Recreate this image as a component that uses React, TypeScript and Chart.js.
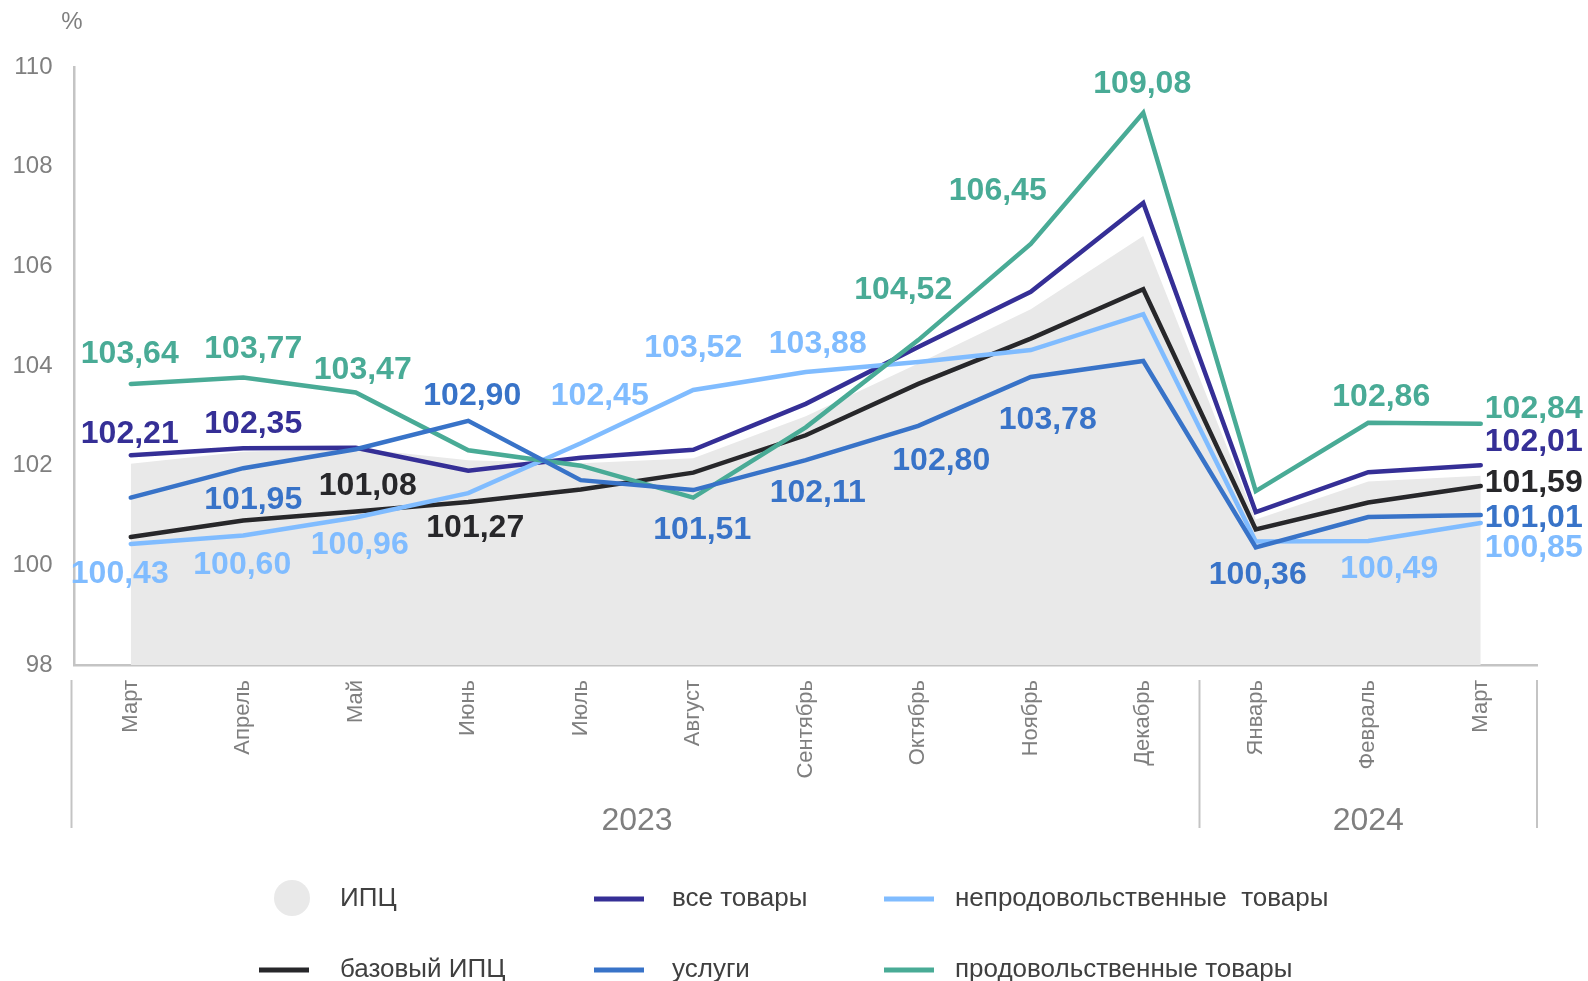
import React, { useEffect, useRef } from 'react';
import { Chart, registerables } from 'chart.js';

Chart.register(...registerables);

// ---------- data ----------
const months = ['Март', 'Апрель', 'Май', 'Июнь', 'Июль', 'Август', 'Сентябрь', 'Октябрь', 'Ноябрь', 'Декабрь', 'Январь', 'Февраль', 'Март'];
const years = ['2023', '2024'];
const yearStartIndex = [0, 10];

const seriesNames = ['ИПЦ', 'все товары', 'непродовольственные  товары', 'базовый ИПЦ', 'услуги', 'продовольственные товары'];

const cpi = [102.04, 102.28, 102.35, 102.11, 102.05, 102.15, 102.99, 104.05, 105.14, 106.61, 100.92, 101.68, 101.80];
const allGoods = [102.21, 102.35, 102.36, 101.90, 102.16, 102.32, 103.24, 104.38, 105.49, 107.27, 101.07, 101.87, 102.01];
const nonFood = [100.43, 100.60, 100.96, 101.45, 102.45, 103.52, 103.88, 104.08, 104.32, 105.04, 100.48, 100.49, 100.85];
const coreCpi = [100.57, 100.90, 101.08, 101.27, 101.52, 101.86, 102.61, 103.64, 104.55, 105.54, 100.72, 101.26, 101.59];
const services = [101.36, 101.95, 102.33, 102.90, 101.71, 101.51, 102.11, 102.80, 103.78, 104.10, 100.36, 100.97, 101.01];
const food = [103.64, 103.77, 103.47, 102.31, 102.00, 101.36, 102.77, 104.52, 106.45, 109.08, 101.49, 102.86, 102.84];

const yMin = 98;
const yMax = 110;
const yStep = 2;

// ---------- styling (label placement offsets, colours) ----------
type Off = [number, number] | null;
const cpiLabelOff: Off[] = Array(13).fill(null);
const allGoodsLabelOff: Off[] = [[-1, -21], [10, -24], null, null, null, null, null, null, null, null, null, null, [53, -23]];
const nonFoodLabelOff: Off[] = [[-11, 30], [-1, 30], [4, 28], null, [19, -47], [0, -42], [12, -28], null, null, null, null, [21, 28], [53, 25]];
const coreLabelOff: Off[] = [null, null, [12, -25], [7, 26], null, null, null, null, null, null, null, null, [53, -3]];
const servicesLabelOff: Off[] = [null, [10, 32], null, [4, -25], null, [9, 40], [12, 33], [23, 35], [17, 43], null, [2, 28], null, [53, 3]];
const foodLabelOff: Off[] = [[-1, -30], [10, -28], [7, -22], null, null, null, null, [-15, -50], [-33, -53], [-1, -29], null, [13, -26], [53, -15]];
const labelOffsets = [cpiLabelOff, allGoodsLabelOff, nonFoodLabelOff, coreLabelOff, servicesLabelOff, foodLabelOff];

const colors = ['#e9e9e9', '#352f96', '#80bcff', '#27272a', '#3873c8', '#49ab96'];
const FONT = '"Liberation Sans", Arial, Helvetica, sans-serif';
const GREY = '#7f7f7f';
const AXIS = '#c4c4c4';

const fmt = (v: number) => v.toFixed(2).replace('.', ',');

const overlayPlugin = {
  id: 'overlay',
  afterDatasetsDraw(chart: any) {
    const ctx = chart.ctx;
    ctx.save();
    ctx.font = `bold 32px ${FONT}`;
    ctx.textAlign = 'center';
    ctx.textBaseline = 'middle';
    chart.data.datasets.forEach((ds: any, i: number) => {
      const offs = labelOffsets[i];
      const meta = chart.getDatasetMeta(i);
      meta.data.forEach((pt: any, j: number) => {
        const o = offs[j];
        if (!o) return;
        ctx.fillStyle = ds.borderColor;
        ctx.fillText(fmt(ds.data[j]), pt.x + o[0], pt.y + o[1]);
      });
    });
    ctx.restore();
  },
  afterDraw(chart: any) {
    const ctx = chart.ctx;
    const xs = chart.scales.x;
    const area = chart.chartArea;
    ctx.save();
    // "%" unit
    ctx.fillStyle = GREY;
    ctx.font = `24px ${FONT}`;
    ctx.textAlign = 'center';
    ctx.textBaseline = 'middle';
    ctx.fillText('%', 72, 22);

    // year group separators
    const half = (xs.getPixelForValue(1) - xs.getPixelForValue(0)) / 2;
    const bounds: number[] = [];
    yearStartIndex.forEach((s) => bounds.push(xs.getPixelForValue(s) - half));
    bounds.push(xs.getPixelForValue(months.length - 1) + half);
    ctx.strokeStyle = AXIS;
    ctx.lineWidth = 2;
    const gTop = area.bottom + 15;
    const gBot = area.bottom + 163;
    bounds.forEach((bx, k) => {
      const x = k === 0 ? bx - 3 : bx;
      ctx.beginPath();
      ctx.moveTo(x, gTop);
      ctx.lineTo(x, gBot);
      ctx.stroke();
    });
    ctx.font = `32px ${FONT}`;
    ctx.fillStyle = GREY;
    years.forEach((y, k) => {
      ctx.fillText(y, (bounds[k] + bounds[k + 1]) / 2, area.bottom + 156);
    });

    // legend
    const rows = [[0, 1, 2], [3, 4, 5]];
    const rowY = [899, 970];
    const markerX = [284, 619, 909];
    const textX = [340, 672, 955];
    ctx.font = `26px ${FONT}`;
    ctx.textAlign = 'left';
    ctx.textBaseline = 'middle';
    rows.forEach((row, r) => {
      row.forEach((di, c) => {
        const ds = chart.data.datasets[di];
        const y = rowY[r];
        if (di === 0) {
          ctx.fillStyle = ds.backgroundColor;
          ctx.beginPath();
          ctx.arc(markerX[c] + 8, y - 1, 18, 0, Math.PI * 2);
          ctx.fill();
        } else {
          ctx.fillStyle = ds.borderColor;
          ctx.fillRect(markerX[c] - 25, y - 2.5, 50, 5);
        }
        ctx.fillStyle = '#404040';
        ctx.fillText(ds.label, textX[c], y);
      });
    });
    ctx.restore();
  },
};

export default function App() {
  const ref = useRef<HTMLCanvasElement | null>(null);
  useEffect(() => {
    if (!ref.current) return;
    const seriesData = [cpi, allGoods, nonFood, coreCpi, services, food];
    const orders = [10, 4, 3, 5, 1, 2];
    const datasets = seriesData.map((d, i) => ({
      label: seriesNames[i],
      data: d,
      borderColor: i === 0 ? 'rgba(0,0,0,0)' : colors[i],
      backgroundColor: colors[i],
      borderWidth: i === 0 ? 0 : 4.5,
      fill: i === 0 ? 'start' : false,
      pointRadius: 0,
      tension: 0,
      order: orders[i],
      borderCapStyle: 'round' as const,
      borderJoinStyle: 'miter' as const,
    }));
    const chart = new Chart(ref.current, {
      type: 'line',
      data: { labels: months, datasets },
      options: {
        responsive: false,
        animation: false,
        devicePixelRatio: 1,
        layout: { padding: { top: 67, right: 51, left: 0, bottom: 0 } },
        plugins: { legend: { display: false }, tooltip: { enabled: false } },
        scales: {
          x: {
            offset: true,
            grid: { display: false, drawTicks: false },
            border: { display: true, color: AXIS, width: 2.5 },
            ticks: {
              color: GREY,
              font: { family: FONT, size: 22 },
              minRotation: 90,
              maxRotation: 90,
              autoSkip: false,
              padding: 15,
            },
            afterFit: (s: any) => { s.height = 316; },
          },
          y: {
            min: yMin,
            max: yMax,
            grid: { display: false, drawTicks: false },
            border: { display: true, color: AXIS, width: 2.5 },
            ticks: {
              stepSize: yStep,
              color: GREY,
              font: { family: FONT, size: 24 },
              padding: 22,
            },
            afterFit: (s: any) => { s.width = 74.5; },
          },
        },
      },
      plugins: [overlayPlugin],
    });
    return () => chart.destroy();
  }, []);
  return (
    <div style={{ position: 'fixed', left: 0, top: 0, width: 1588, height: 981, background: '#fff' }}>
      <canvas ref={ref} width={1588} height={981} style={{ display: 'block' }} />
    </div>
  );
}
